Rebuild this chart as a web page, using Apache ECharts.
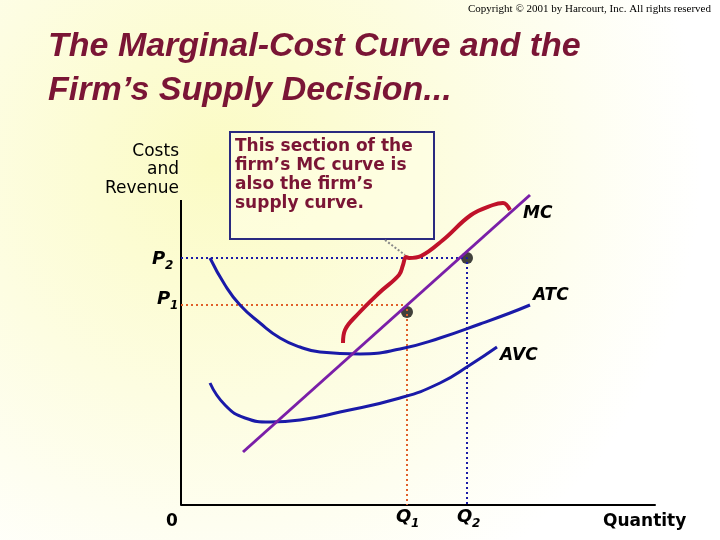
<!DOCTYPE html>
<html><head><meta charset="utf-8">
<script src="https://cdn.jsdelivr.net/npm/echarts@6/dist/echarts.min.js"></script>
<style>html,body{margin:0;padding:0}#c{width:720px;height:540px}</style>
</head><body><div id="c"></div>
<script>
// data in "chart units": x = quantity, y = cost (origin at bottom-left of axes)
var atc = [[29,247],[44,220],[59,200],[79,182],[99,167],[119,158],[139,153],[179,151],[219,156],[259,167],[299,181],[329,192],[349,200]];
var avc = [[29,122],[44,100],[64,87],[89,83],[119,85],[159,93],[219,107],[259,122],[289,140],[316,158]];
var mc = [[62,53],[349,310]];
var supplyBracket = [[162,162],[164,175],[176,190],[198,212],[218,230],[222,240],[225,248],[228,247],[240,249],[262,265],[290,290],[312,300],[322,302],[329,295]];
var p1 = 200, p2 = 247, q1 = 226, q2 = 286;
var dots = [[q1,193],[q2,247]];
var callout = [[204,265],[224,250]];

var chart = echarts.init(document.getElementById('c'));
var txt = function (x, y, s, font, color, align, lh) {
  return {type:'text', style:{x:x, y:y, text:s, font:font, fill:color||'#000', textAlign:align||'left', textVerticalAlign:'top', lineHeight:lh||undefined}};
};
chart.setOption({
  animation:false,
  backgroundColor:{type:'radial',x:0.3,y:0.3,r:0.9,colorStops:[{offset:0,color:'#fbfbc4'},{offset:1,color:'#ffffff'}]},
  grid:{left:181,top:35,right:65,bottom:35},
  xAxis:{type:'value',min:0,max:474,axisLine:{lineStyle:{color:'#000',width:2}},axisTick:{show:false},axisLabel:{show:false},splitLine:{show:false}},
  yAxis:{type:'value',min:0,max:470,axisLine:{show:false},axisTick:{show:false},axisLabel:{show:false},splitLine:{show:false}},
  series:[
    {type:'line',data:[[0,0],[0,305]],symbol:'none',lineStyle:{color:'#000',width:2}},
    {type:'line',data:[[0,p2],[q2,p2],[q2,0]],symbol:'none',lineStyle:{color:'#1a1aa8',width:2,type:[2,3]}},
    {type:'line',data:[[0,p1],[q1,p1],[q1,0]],symbol:'none',lineStyle:{color:'#e0602a',width:2,type:[2,3]}},
    {type:'line',data:atc,smooth:true,symbol:'none',lineStyle:{color:'#1a1aa8',width:3}},
    {type:'line',data:avc,smooth:true,symbol:'none',lineStyle:{color:'#1a1aa8',width:3}},
    {type:'line',data:mc,symbol:'none',lineStyle:{color:'#7a1fa8',width:3}},
    {type:'line',data:supplyBracket,smooth:0.4,symbol:'none',lineStyle:{color:'#c0122a',width:4}},
    {type:'line',data:callout,symbol:'none',lineStyle:{color:'#888',width:2,type:[2,2]}},
    {type:'scatter',data:dots,symbolSize:12,itemStyle:{color:'#111'}}
  ],
  graphic:[
    txt(711,4,'Copyright © 2001 by Harcourt, Inc. All rights reserved','11px "Liberation Serif"','#000','right'),
    txt(48,30,'The Marginal-Cost Curve and the','italic bold 34px "Liberation Sans"','#7a1535'),
    txt(48,74,'Firm’s Supply Decision...','italic bold 34px "Liberation Sans"','#7a1535'),
    {type:'rect',left:229,top:131,shape:{width:204,height:107},style:{fill:'rgba(255,255,230,0.6)',stroke:'#2a2a80',lineWidth:2}},
    txt(235,137,'This section of the\nfirm’s MC curve is\nalso the firm’s\nsupply curve.','bold 17px "DejaVu Sans"','#7a1535','left',19),
    txt(179,142,'Costs\nand\nRevenue','17px "DejaVu Sans"','#000','right',18.5),
    txt(152,250,'P','italic bold 18px "DejaVu Sans"'),txt(165,260,'2','italic bold 12px "DejaVu Sans"'),
    txt(157,290,'P','italic bold 18px "DejaVu Sans"'),txt(170,300,'1','italic bold 12px "DejaVu Sans"'),
    txt(396,508,'Q','italic bold 18px "DejaVu Sans"'),txt(411,518,'1','italic bold 12px "DejaVu Sans"'),
    txt(457,508,'Q','italic bold 18px "DejaVu Sans"'),txt(472,518,'2','italic bold 12px "DejaVu Sans"'),
    txt(166,513,'0','bold 17px "DejaVu Sans"'),
    txt(603,513,'Quantity','bold 17px "DejaVu Sans"'),
    txt(523,205,'MC','italic bold 17px "DejaVu Sans"'),
    txt(533,287,'ATC','italic bold 17px "DejaVu Sans"'),
    txt(500,347,'AVC','italic bold 17px "DejaVu Sans"')
  ]
});
</script></body></html>
